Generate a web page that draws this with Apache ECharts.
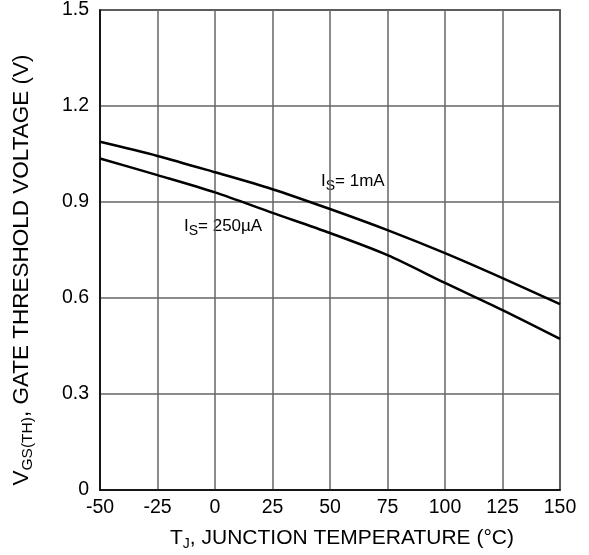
<!DOCTYPE html>
<html><head><meta charset="utf-8">
<script src="https://cdn.jsdelivr.net/npm/echarts@6/dist/echarts.min.js"></script>
<style>html,body{margin:0;padding:0;background:#fff}#c{width:589px;height:555px}</style>
</head><body><div id="c"></div>
<script>
const temps = [-50, -25, 0, 25, 50, 75, 100, 125, 150];
const vth1mA = [1.088, 1.044, 0.993, 0.940, 0.878, 0.812, 0.740, 0.662, 0.581];
const vth250uA = [1.036, 0.984, 0.930, 0.866, 0.803, 0.734, 0.647, 0.562, 0.472];
const xTicks = [-50, 150, 25];
const yTicks = [0, 1.5, 0.3];

const chart = echarts.init(document.getElementById('c'));
const font = 'Liberation Sans, Arial, sans-serif';
const nameRich = {
  t: {fontSize: 21, fontFamily: font, fill: '#000'},
  s: {fontSize: 14, fontFamily: font, fill: '#000', padding: [12, 0, 0, 0]}
};
const yNameRich = {
  t: {fontSize: 22.5, fontFamily: font, fill: '#000'},
  s: {fontSize: 15.5, fontFamily: font, fill: '#000', padding: [12, 0, 0, 0]}
};
const lblRich = {
  t: {fontSize: 17, fontFamily: font, fill: '#000'},
  s: {fontSize: 14, fontFamily: font, fill: '#000', padding: [9, 0, 0, 0]}
};
chart.setOption({
  animation: false,
  grid: {left: 100, right: 29, top: 10, bottom: 65, show: true, borderColor: '#000', borderWidth: 1.5},
  xAxis: {
    type: 'value', min: xTicks[0], max: xTicks[1], interval: xTicks[2],
    axisLine: {show: true, onZero: false, lineStyle: {color: '#000', width: 1.5}},
    axisTick: {show: false},
    splitLine: {show: true, lineStyle: {color: '#666', width: 1.5}},
    axisLabel: {color: '#000', fontSize: 19.5, fontFamily: font, margin: 8}
  },
  yAxis: {
    type: 'value', min: yTicks[0], max: yTicks[1], interval: yTicks[2],
    axisLine: {show: true, onZero: false, lineStyle: {color: '#000', width: 1.5}},
    axisTick: {show: false},
    splitLine: {show: true, lineStyle: {color: '#666', width: 1.5}},
    axisLabel: {color: '#000', fontSize: 19.5, fontFamily: font, margin: 11,
      formatter: v => v === 0 ? '0' : v.toFixed(1)}
  },
  series: [
    {type: 'line', data: temps.map((t, i) => [t, vth1mA[i]]), smooth: 0.3, symbol: 'none',
     lineStyle: {color: '#000', width: 2.5}},
    {type: 'line', data: temps.map((t, i) => [t, vth250uA[i]]), smooth: 0.3, symbol: 'none',
     lineStyle: {color: '#000', width: 2.5}}
  ],
  graphic: [
    {type: 'text', x: 342, y: 538, style: {
      text: '{t|T}{s|J}{t|, JUNCTION TEMPERATURE (°C)}', rich: nameRich,
      align: 'center', verticalAlign: 'middle'}},
    {type: 'text', x: 22, y: 270, rotation: Math.PI / 2, style: {
      text: '{t|V}{s|GS(TH)}{t|, GATE THRESHOLD VOLTAGE (V)}', rich: yNameRich,
      align: 'center', verticalAlign: 'middle'}},
    {type: 'text', left: 321, top: 170, style: {
      text: '{t|I}{s|S}{t|= 1mA}', rich: lblRich, backgroundColor: '#fff'}},
    {type: 'text', left: 184, top: 215, style: {
      text: '{t|I}{s|S}{t|= 250µA}', rich: lblRich, backgroundColor: '#fff'}}
  ]
});
</script></body></html>
